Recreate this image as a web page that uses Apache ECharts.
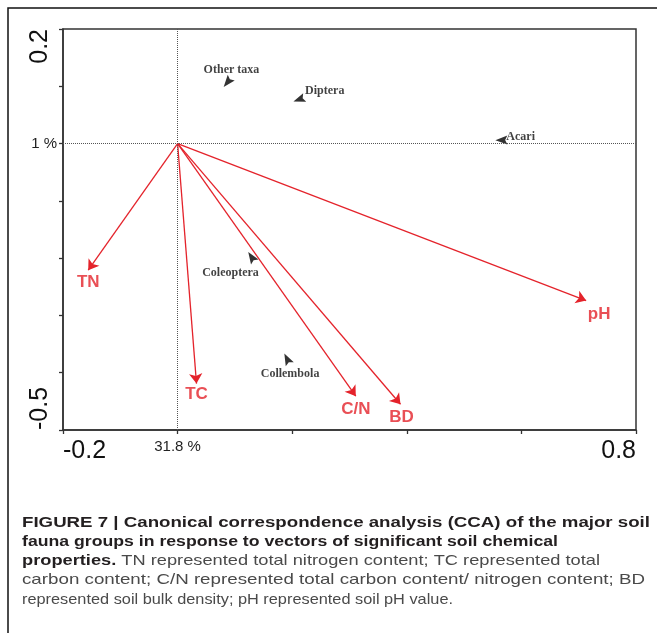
<!DOCTYPE html>
<html>
<head>
<meta charset="utf-8">
<title>CCA soil fauna</title>
<script src="https://cdn.jsdelivr.net/npm/echarts@6/dist/echarts.min.js"></script>
<style>
    html, body { margin: 0; padding: 0; background: #fff; }
    #cca_chart { width: 657px; height: 633px; }
</style>
</head>
<body>
<div id="cca_chart"></div>
<script>
// Environmental vectors (arrow tips, origin at 0,0)
var envNames = ['TN', 'TC', 'C/N', 'BD', 'pH'];
var envX = [-0.156, 0.033, 0.311, 0.389, 0.713];
var envY = [-0.221, -0.419, -0.441, -0.455, -0.274];

// Species scores
var spNames = ['Other taxa', 'Diptera', 'Acari', 'Coleoptera', 'Collembola'];
var spX = [0.087, 0.212, 0.565, 0.129, 0.191];
var spY = [0.107, 0.077, 0.006, -0.198, -0.376];

// Axis ticks and labels
var xTicks = [-0.2, 0.8];
var xZeroLabel = '31.8 %';
var yTicks = [-0.5, 0.2];
var yZeroLabel = '1 %';

// Caption lines: [bold part, normal part, right edge in px]
var captionLines = [
    ['FIGURE 7 | Canonical correspondence analysis (CCA) of the major soil', '', 650],
    ['fauna groups in response to vectors of significant soil chemical', '', 558],
    ['properties. ', 'TN represented total nitrogen content; TC represented total', 600],
    ['', 'carbon content; C/N represented total carbon content/ nitrogen content; BD', 645],
    ['', 'represented soil bulk density; pH represented soil pH value.', 453]
];

// Label placement (pixels from the point)
var envLabelOffset = {
    'TN': [0, 12], 'TC': [0, 11], 'C/N': [0, 13], 'BD': [1, 13], 'pH': [13, 14]
};
var spLabelOffset = {
    'Other taxa': [4, -12, 'center'],
    'Diptera': [6, -9, 'left'],
    'Acari': [5, -3, 'left'],
    'Coleoptera': [-21, 16, 'center'],
    'Collembola': [3, 15, 'center']
};

var red = '#e4232b';
// small dart, tip up; rotated per point below
var dartSymbol = 'path://M0,-6L4,5L0,3L-4,5Z';
var capFont = 'Liberation Sans';
var capSize = 15;
var capLeft = 22;
var capTop = 513;
var capLineH = 19.2;

function near(a, b) {
    return Math.abs(a - b) < 1e-6;
}

// measure caption text so each line can be stretched to its width
var measureCtx = document.createElement('canvas').getContext('2d');
function textWidth(str, bold) {
    measureCtx.font = (bold ? 'bold ' : '') + capSize + 'px "' + capFont + '"';
    return measureCtx.measureText(str).width;
}

var captionGraphics = captionLines.map(function (ln, i) {
    var w = textWidth(ln[0], true) + textWidth(ln[1], false);
    var txt = (ln[0] ? '{b|' + ln[0] + '}' : '') + (ln[1] ? '{n|' + ln[1] + '}' : '');
    return {
        type: 'text',
        x: capLeft,
        y: capTop + i * capLineH,
        scaleX: (ln[2] - capLeft) / w,
        silent: true,
        style: {
            text: txt,
            verticalAlign: 'top',
            rich: {
                b: { fontSize: capSize, fontWeight: 'bold', fill: '#231f20', lineHeight: capLineH, fontFamily: capFont },
                n: { fontSize: capSize, fill: '#4a4a4a', lineHeight: capLineH, fontFamily: capFont }
            }
        }
    };
});

var chart = echarts.init(document.getElementById('cca_chart'));

chart.setOption({
    animation: false,
    textStyle: {
        fontFamily: 'Liberation Sans, Arial, sans-serif'
    },
    grid: {
        left: 63,
        top: 29,
        right: 21,
        bottom: 203,
        show: true,
        borderColor: '#333',
        borderWidth: 1.5
    },
    xAxis: {
        type: 'value',
        min: -0.2,
        max: 0.8,
        interval: 0.2,
        axisLine: { onZero: false, lineStyle: { color: '#333', width: 1.5 } },
        axisTick: { show: true, length: 4, lineStyle: { color: '#333', width: 1.3 } },
        splitLine: { show: false },
        axisLabel: {
            margin: 9,
            showMinLabel: true,
            showMaxLabel: true,
            alignMinLabel: 'left',
            alignMaxLabel: 'right',
            formatter: function (v) {
                if (near(v, 0)) return '{s|' + xZeroLabel + '}';
                for (var i = 0; i < xTicks.length; i++) {
                    if (near(v, xTicks[i])) return '{b|' + xTicks[i] + '}';
                }
                return '';
            },
            rich: {
                b: { fontSize: 25, color: '#111' },
                s: { fontSize: 15, color: '#222' }
            }
        }
    },
    yAxis: [{
        type: 'value',
        position: 'left',
        min: -0.5,
        max: 0.2,
        interval: 0.1,
        axisLine: { onZero: false, lineStyle: { color: '#333', width: 1.5 } },
        axisTick: { show: true, length: 4, lineStyle: { color: '#333', width: 1.3 } },
        splitLine: { show: false },
        axisLabel: {
            rotate: 90,
            margin: 10,
            fontSize: 25,
            color: '#111',
            showMinLabel: true,
            showMaxLabel: true,
            alignMinLabel: 'left',
            alignMaxLabel: 'right',
            formatter: function (v) {
                for (var i = 0; i < yTicks.length; i++) {
                    if (near(v, yTicks[i])) return String(yTicks[i]);
                }
                return '';
            }
        }
    }, {
        type: 'value',
        position: 'left',
        min: -0.5,
        max: 0.2,
        interval: 0.1,
        axisLine: { show: false, onZero: false },
        axisTick: { show: false },
        splitLine: { show: false },
        axisLabel: {
            margin: 6,
            fontSize: 15,
            color: '#222',
            formatter: function (v) {
                return near(v, 0) ? yZeroLabel : '';
            }
        }
    }],

    // Figure frame and caption
    graphic: [{
        type: 'polyline',
        shape: { points: [[8, 633], [8, 8], [657, 8]] },
        style: { stroke: '#111', lineWidth: 1.5, fill: null },
        silent: true
    }].concat(captionGraphics),

    series: [{
        // Species markers, pointing back toward the origin
        name: 'species',
        type: 'scatter',
        z: 3,
        symbol: dartSymbol,
        symbolSize: [9, 12],
        itemStyle: { color: '#000' },
        data: spNames.map(function (n, i) {
            return {
                name: n,
                value: [spX[i], spY[i]],
                symbolRotate: Math.atan2(spX[i], -spY[i]) * 180 / Math.PI
            };
        }),
        markLine: {
            silent: true,
            symbol: 'none',
            animation: false,
            label: { show: false },
            lineStyle: { color: '#555', type: 'dotted', width: 1 },
            data: [{ xAxis: 0 }, { yAxis: 0 }]
        }
    }, {
        // Species labels
        name: 'species labels',
        type: 'scatter',
        z: 3,
        symbolSize: 0,
        data: spNames.map(function (n, i) {
            var off = spLabelOffset[n];
            return {
                name: n,
                value: [spX[i], spY[i]],
                label: { offset: [off[0], off[1]], align: off[2] }
            };
        }),
        label: {
            show: true,
            position: 'inside',
            formatter: '{b}',
            fontFamily: 'Liberation Serif, Times New Roman, serif',
            fontWeight: 'bold',
            fontSize: 12,
            color: '#111'
        }
    }, {
        // Environmental arrows
        name: 'vectors',
        type: 'lines',
        coordinateSystem: 'cartesian2d',
        z: 4,
        symbol: ['none', 'arrow'],
        symbolSize: 10,
        lineStyle: { color: red, width: 1.3, opacity: 1 },
        data: envNames.map(function (n, i) {
            return { name: n, coords: [[0, 0], [envX[i], envY[i]]] };
        })
    }, {
        // Vector labels
        name: 'vector labels',
        type: 'scatter',
        z: 5,
        symbolSize: 0,
        data: envNames.map(function (n, i) {
            return {
                name: n,
                value: [envX[i], envY[i]],
                label: { offset: envLabelOffset[n] }
            };
        }),
        label: {
            show: true,
            position: 'inside',
            formatter: '{b}',
            fontWeight: 'bold',
            fontSize: 17,
            color: red
        }
    }]
});
</script>
</body>
</html>
